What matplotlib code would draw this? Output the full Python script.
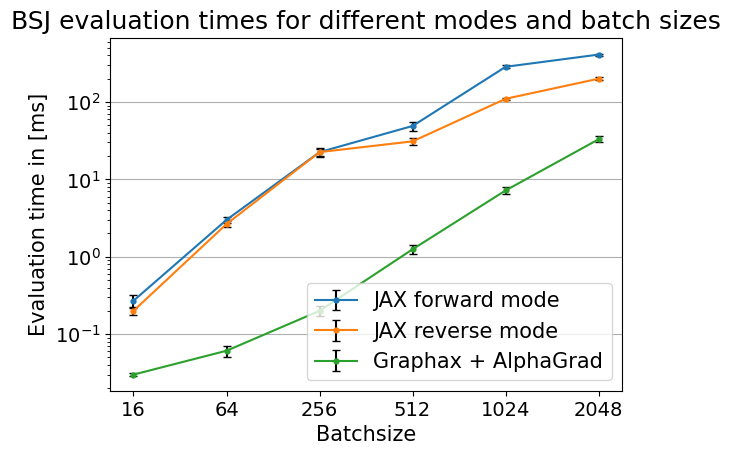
import matplotlib
matplotlib.use("Agg")
import matplotlib.pyplot as plt
import numpy as np

batch_sizes = ["16", "64", "256", "512", "1024", "2048"]
fwd_mean = [0.27, 3.0, 22.5, 49, 285, 410]
fwd_err = [0.055, 0.3, 3.0, 6.5, 12, 12]
rev_mean = [0.20, 2.65, 22.5, 31, 110, 200]
rev_err = [0.025, 0.25, 2.5, 3.5, 4, 10]
ag_mean = [0.030, 0.061, 0.20, 1.25, 7.2, 33]
ag_err = [0.0015, 0.01, 0.03, 0.17, 0.7, 3]

fig = plt.figure(figsize=(7.3, 4.55), dpi=100)
ax = fig.add_axes([0.151, 0.141, 0.701, 0.776])
x = np.arange(len(batch_sizes))
ax.errorbar(x, fwd_mean, yerr=fwd_err, marker='.', markersize=7, capsize=3, ecolor='black', label="JAX forward mode")
ax.errorbar(x, rev_mean, yerr=rev_err, marker='.', markersize=7, capsize=3, ecolor='black', label="JAX reverse mode")
ax.errorbar(x, ag_mean, yerr=ag_err, marker='.', markersize=7, capsize=3, ecolor='black', label="Graphax + AlphaGrad")
ax.set_yscale('log')
ax.set_ylim(0.0185, 676)
ax.set_xticks(x)
ax.set_xticklabels(batch_sizes)
ax.tick_params(labelsize=14)
ax.grid(True, axis='y', which='major')
ax.set_xlabel("Batchsize", fontsize=15)
ax.set_ylabel("Evaluation time in [ms]", fontsize=15)
ax.set_title("BSJ evaluation times for different modes and batch sizes", fontsize=18)
ax.legend(loc='lower right', fontsize=15)
fig.savefig("out.png", dpi=100)
